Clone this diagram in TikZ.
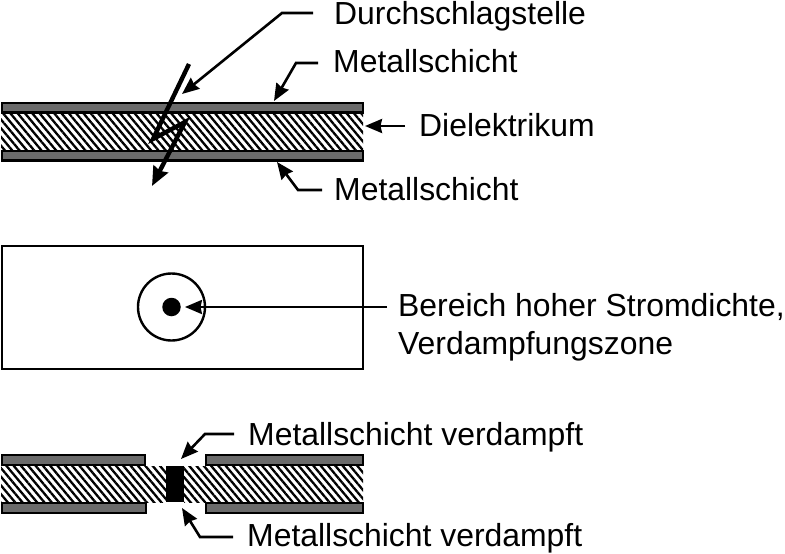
\documentclass[tikz,border=0pt]{standalone}
\usepackage{fontspec}
\setmainfont{Liberation Sans}
\usetikzlibrary{arrows.meta,patterns.meta}
\begin{document}
\begin{tikzpicture}[x=1pt, y=-1pt,
    main/.style = {anchor=base west, inner sep=0pt, font=\fontsize{31.9}{38}\selectfont},
    metal/.style = {draw=black, line width=2.6pt, fill=black!58},
    diel/.style = {pattern={Lines[angle=-50,distance=5.6pt,line width=2.3pt]}},
    lead/.style = {line width=2.6pt, -{Stealth[length=17pt,width=14pt,inset=1.5pt]}}]
    \useasboundingbox (0,0) rectangle (785,554);
    \fill[white] (0,0) rectangle (785,554);
    \fill[diel] (1,113) rectangle (363,150);
    \draw[metal] (2,103) rectangle (363,112.5);
    \draw[metal] (2,151) rectangle (363,160.5);
    \node[main] (1) at (334,24.5) {Durchschlagstelle};
    \node[main] (2) at (333,72) {Metallschicht};
    \node[main] (3) at (419,136) {Dielektrikum};
    \node[main] (4) at (334,200) {Metallschicht};
    \coordinate (1a) at (313,13);
    \coordinate (1b) at (282,13);
    \coordinate (1c) at (182,94);
    \coordinate (2a) at (318,63);
    \coordinate (2b) at (296,63);
    \coordinate (2c) at (274,101);
    \coordinate (3a) at (405,126);
    \coordinate (3b) at (365,126);
    \coordinate (4a) at (322,190);
    \coordinate (4b) at (298,190);
    \coordinate (4c) at (277,162);
    \draw[lead] (1a) -- (1b) -- (1c);
    \draw[lead] (2a) -- (2b) -- (2c);
    \draw[lead] (3a) -- (3b);
    \draw[lead] (4a) -- (4b) -- (4c);
    \coordinate (f1) at (189,64);
    \coordinate (f2) at (153,139);
    \coordinate (f3) at (185,122);
    \coordinate (f4) at (152,186);
    \draw[line width=4.4pt, miter limit=20, -{Stealth[length=19pt,width=16pt,inset=2pt]}] (f1) -- (f2) -- (f3) -- (f4);
    \draw[line width=2.4pt] (2,246) rectangle (363,369);
    \node[draw, circle, line width=2.4pt, minimum size=67pt, inner sep=0pt] (5) at (171.5,307) {};
    \node[fill=black, circle, minimum size=18.5pt, inner sep=0pt] (6) at (171.5,307) {};
    \node[main, anchor=west, align=left] (7) at (398,327.5) {Bereich hoher Stromdichte,\\Verdampfungszone};
    \coordinate (7a) at (387,307);
    \draw[lead, shorten >=4pt] (7a) -- (6.east);
    \fill[diel] (1,466) rectangle (166,502);
    \fill[diel] (184,466) rectangle (363,502);
    \fill[black] (166,466) rectangle (184,502);
    \draw[metal] (2,455) -- (145,455) -- (145,465) -- (2,465) -- cycle;
    \draw[metal] (206,455) -- (363,455) -- (363,465) -- (206,465) -- cycle;
    \draw[metal] (2,503) -- (146,503) -- (146,513) -- (2,513) -- cycle;
    \draw[metal] (206,503) -- (363,503) -- (363,513) -- (206,513) -- cycle;
    \node[main] (8) at (248,445) {Metallschicht verdampft};
    \node[main] (9) at (247,546) {Metallschicht verdampft};
    \coordinate (8a) at (234,434);
    \coordinate (8b) at (205,434);
    \coordinate (8c) at (181,459);
    \coordinate (9a) at (233,537);
    \coordinate (9b) at (200,537);
    \coordinate (9c) at (182,508);
    \draw[lead] (8a) -- (8b) -- (8c);
    \draw[lead] (9a) -- (9b) -- (9c);
\end{tikzpicture}
\end{document}
